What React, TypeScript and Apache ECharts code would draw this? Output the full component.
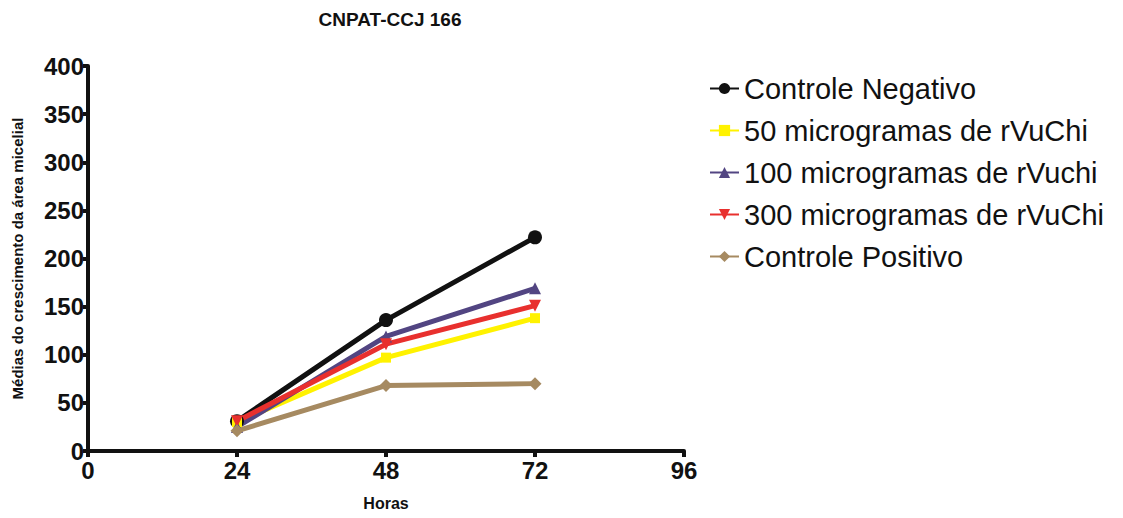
import React, { useEffect, useRef } from "react";
import * as echarts from "echarts";

const hours = [24, 48, 72];
const controleNegativo = [31, 136, 222];
const mg50 = [30, 97, 138];
const mg100 = [25, 119, 169];
const mg300 = [31, 111, 151];
const controlePositivo = [21, 68, 70];
const xTicks = [0, 24, 48, 72, 96];
const yTicks = [0, 50, 100, 150, 200, 250, 300, 350, 400];

const seriesDefs = [
  { name: "Controle Negativo", data: controleNegativo, color: "#111111", symbol: "circle", size: 14, rotate: 0 },
  { name: "50 microgramas de rVuChi", data: mg50, color: "#fff200", symbol: "rect", size: 10, rotate: 0 },
  { name: "100 microgramas de rVuchi", data: mg100, color: "#524582", symbol: "triangle", size: 12, rotate: 0 },
  { name: "300 microgramas de rVuChi", data: mg300, color: "#e8302e", symbol: "triangle", size: 12, rotate: 180 },
  { name: "Controle Positivo", data: controlePositivo, color: "#a68a61", symbol: "diamond", size: 13, rotate: 0 },
];

export default function App() {
  const ref = useRef<HTMLDivElement>(null);
  useEffect(() => {
    const chart = echarts.init(ref.current!, null, { renderer: "svg" });
    const font = "Arial, 'Liberation Sans', sans-serif";
    chart.setOption({
      animation: false,
      backgroundColor: "#ffffff",
      title: {
        text: "CNPAT-CCJ 166",
        left: 385,
        top: 5,
        textAlign: "center",
        textStyle: { fontFamily: font, fontSize: 19, fontWeight: "bold", color: "#111" },
      },
      legend: {
        orient: "vertical",
        left: 704,
        top: 69,
        itemGap: 13,
        itemWidth: 29,
        itemHeight: 14,
        textStyle: { fontFamily: font, fontSize: 29, color: "#111" },
        data: seriesDefs.map((s) => s.name),
      },
      grid: { left: 88, right: 439, top: 66, bottom: 67, containLabel: false },
      xAxis: {
        type: "value",
        min: 0,
        max: 96,
        interval: 24,
        name: "Horas",
        nameLocation: "middle",
        nameGap: 44,
        nameTextStyle: { fontFamily: font, fontSize: 16, fontWeight: "bold", color: "#111" },
        axisLine: { show: true, lineStyle: { color: "#111", width: 4 } },
        axisTick: { show: true, length: 6, lineStyle: { color: "#111", width: 4 } },
        axisLabel: {
          fontFamily: font,
          fontSize: 24,
          fontWeight: "bold",
          color: "#111",
          margin: 7,
          formatter: (v: number) => (xTicks.includes(v) ? String(v) : ""),
        },
        splitLine: { show: false },
      },
      yAxis: {
        type: "value",
        min: 0,
        max: 400,
        interval: 50,
        name: "Médias do crescimento da área micelial",
        nameLocation: "middle",
        nameGap: 63,
        nameTextStyle: { fontFamily: font, fontSize: 15, fontWeight: "bold", color: "#111" },
        axisLine: { show: true, lineStyle: { color: "#111", width: 4 } },
        axisTick: { show: true, length: 5, lineStyle: { color: "#111", width: 4 } },
        axisLabel: {
          fontFamily: font,
          fontSize: 24,
          fontWeight: "bold",
          color: "#111",
          margin: 4,
          formatter: (v: number) => (yTicks.includes(v) ? String(v) : ""),
        },
        splitLine: { show: false },
      },
      series: seriesDefs.map((s) => ({
        name: s.name,
        type: "line",
        data: hours.map((h, i) => [h, s.data[i]]),
        symbol: s.symbol,
        symbolSize: s.size,
        symbolRotate: s.rotate,
        showAllSymbol: true,
        color: s.color,
        itemStyle: { color: s.color },
        lineStyle: { color: s.color, width: 5 },
      })),
    });
    return () => chart.dispose();
  }, []);
  return <div ref={ref} style={{ width: 1123, height: 518, position: "absolute", left: 0, top: 0 }} />;
}
